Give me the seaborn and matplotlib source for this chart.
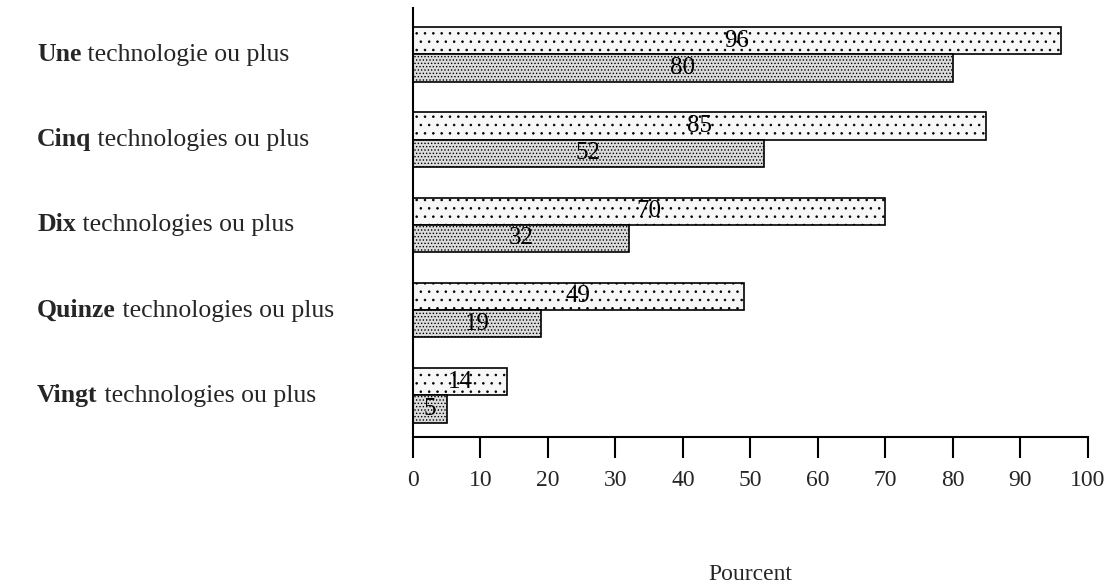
import pandas as pd
import matplotlib.pyplot as plt
import seaborn as sns

# data
categories = ['Une', 'Cinq', 'Dix', 'Quinze', 'Vingt']
suffixes = [' technologie ou plus', ' technologies ou plus', ' technologies ou plus',
            ' technologies ou plus', ' technologies ou plus']
series_names = ['Série 1', 'Série 2']
values_1 = [96, 85, 70, 49, 14]
values_2 = [80, 52, 32, 19, 5]
xticks = [0, 10, 20, 30, 40, 50, 60, 70, 80, 90, 100]

df = pd.DataFrame({
    'cat': categories * 2,
    'serie': [series_names[0]] * 5 + [series_names[1]] * 5,
    'val': values_1 + values_2,
})

sns.set_style('white')
plt.rcParams['font.family'] = ['Liberation Serif', 'DejaVu Serif']
plt.rcParams['hatch.linewidth'] = 0.6

fig = plt.figure(figsize=(11.19, 5.86), dpi=100)
ax = fig.add_axes([0.369, 0.254, 0.603, 0.732])

sns.barplot(data=df, y='cat', x='val', hue='serie', orient='h', order=categories,
            hue_order=series_names, width=0.64, gap=0, legend=False,
            edgecolor='black', linewidth=1.2, ax=ax)

styles = [('#f7f7f7', '..'), ('#dcdcdc', '.....')]
for cont, (fc, hatch) in zip(ax.containers, styles):
    for p in cont:
        p.set_facecolor(fc)
        p.set_hatch(hatch)
        p.set_edgecolor('black')
    ax.bar_label(cont, label_type='center', fontsize=18, color='black')

ax.set_xlim(0, 100)
ax.set_ylim(4.49, -0.54)
ax.set_xticks(xticks)
ax.set_xticklabels([str(t) for t in xticks], fontsize=17)
ax.set_yticks([])
ax.set_ylabel('')
ax.set_xlabel('Pourcent', fontsize=17, labelpad=52)
ax.tick_params(axis='x', direction='out', length=15, width=1.5, color='black',
               bottom=True, pad=9)
for s in ['top', 'right']:
    ax.spines[s].set_visible(False)
for s in ['left', 'bottom']:
    ax.spines[s].set_color('black')
    ax.spines[s].set_linewidth(1.5)

# category labels: bold first word + regular rest, same baseline
trans = ax.get_yaxis_transform()
for i, (c, rest) in enumerate(zip(categories, suffixes)):
    t = ax.text(-0.557, i, c, transform=trans, fontsize=18.5, fontweight='bold',
                va='center', ha='left')
    ax.annotate(rest, xy=(1, 0), xycoords=t, va='bottom', ha='left', fontsize=18.5)

fig.savefig('out.png', dpi=100)
